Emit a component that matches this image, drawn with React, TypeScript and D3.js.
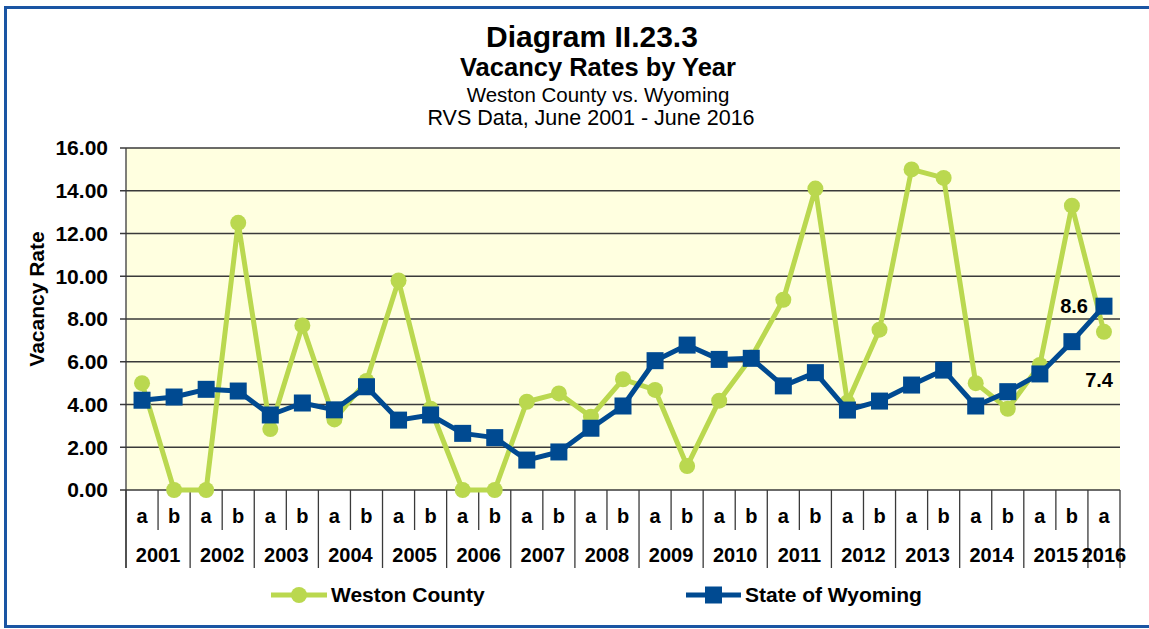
import React, { useMemo } from 'react';
import * as d3 from 'd3';

// Chart data
const years = ['2001', '2002', '2003', '2004', '2005', '2006', '2007', '2008',
  '2009', '2010', '2011', '2012', '2013', '2014', '2015', '2016'];
const halfLabels = ['a', 'b'];
const westonCounty = [5.0, 0, 0, 12.5, 2.85, 7.7, 3.3, 5.1, 9.8, 3.8, 0, 0, 4.13, 4.52,
  3.43, 5.18, 4.68, 1.12, 4.18, 6.2, 8.9, 14.1, 4.1, 7.5, 15.0, 14.6, 5.0, 3.8, 5.85, 13.3, 7.4];
const stateOfWyoming = [4.2, 4.35, 4.71, 4.63, 3.51, 4.07, 3.75, 4.83, 3.27, 3.51, 2.65, 2.45,
  1.4, 1.78, 2.89, 3.93, 6.05, 6.78, 6.11, 6.16, 4.87, 5.49, 3.74, 4.16, 4.91, 5.61, 3.93, 4.6,
  5.43, 6.94, 8.6];
const yTicks = [0, 2, 4, 6, 8, 10, 12, 14, 16];
const seriesNames = ['Weston County', 'State of Wyoming'];

const W = 1149;
const H = 629;
const plot = { left: 126, right: 1120, top: 148, bottom: 490 };
const GREEN = '#bad84f';
const BLUE = '#004a91';
const FONT = 'Liberation Sans, Arial, sans-serif';

// 2016 only has the "a" survey
const periods = years.flatMap((yr) =>
  (yr === '2016' ? halfLabels.slice(0, 1) : halfLabels).map((h) => ({ year: yr, half: h, key: yr + h })));

const App: React.FC = () => {
  const x = useMemo(() => d3.scaleBand<string>()
    .domain(periods.map((p) => p.key))
    .range([plot.left, plot.right])
    .paddingInner(0)
    .paddingOuter(0), []);
  const y = useMemo(() => d3.scaleLinear().domain([0, 16]).range([plot.bottom, plot.top]), []);
  const bw = x.bandwidth();
  const cx = (i: number) => (x(periods[i].key) as number) + bw / 2;

  const line = d3.line<number>().x((_, i) => cx(i)).y((d) => y(d));

  // boundaries between categories; year boundaries run down further
  const boundaries = d3.range(periods.length + 1).map((i) => {
    const xPos = plot.left + i * bw;
    const yearEdge = i === 0 || i === periods.length || periods[i].half === 'a';
    return { xPos, yearEdge };
  });

  const last = periods.length - 1;

  return (
    <div>
      <style>{'body{margin:0}'}</style>
      <svg width={W} height={H} style={{ display: 'block', fontFamily: FONT }}>
        <rect x={0} y={0} width={W} height={H} fill="#fff" />
        {/* outer frame */}
        <rect x={5.5} y={7.5} width={W + 10} height={619} fill="none" stroke="#1a55a3" strokeWidth={3} />

        {/* titles */}
        <g textAnchor="middle" fill="#000">
          <text x={592} y={47} fontSize={30} fontWeight="bold">Diagram II.23.3</text>
          <text x={598} y={76} fontSize={25.5} fontWeight="bold">Vacancy Rates by Year</text>
          <text x={598} y={101.5} fontSize={20.5}>Weston County vs. Wyoming</text>
          <text x={591} y={125} fontSize={21.5}>RVS Data, June 2001 - June 2016</text>
        </g>

        {/* plot background */}
        <rect x={plot.left} y={plot.top} width={plot.right - plot.left} height={plot.bottom - plot.top} fill="#ffffe0" />

        {/* gridlines + y ticks */}
        {yTicks.map((t) => (
          <g key={t}>
            <line x1={plot.left - 6} x2={plot.right} y1={y(t)} y2={y(t)} stroke="#3a3a3a" strokeWidth={1.3} />
            <text x={108} y={y(t)} dy="0.35em" textAnchor="end" fontSize={21} fontWeight="bold">{d3.format('.2f')(t)}</text>
          </g>
        ))}
        <line x1={plot.left} x2={plot.left} y1={plot.top} y2={568} stroke="#3a3a3a" strokeWidth={1.3} />

        {/* category dividers */}
        {boundaries.map((b, i) => (
          <line key={i} x1={b.xPos} x2={b.xPos} y1={plot.bottom} y2={b.yearEdge ? 568 : 530} stroke="#3a3a3a" strokeWidth={1.3} />
        ))}

        {/* category labels */}
        <g textAnchor="middle" fontSize={20} fontWeight="bold">
          {periods.map((p, i) => (
            <text key={p.key} x={cx(i)} y={523}>{p.half}</text>
          ))}
          {years.map((yr) => {
            const idx = periods.map((p, i) => (p.year === yr ? i : -1)).filter((i) => i >= 0);
            const mid = (cx(idx[0]) + cx(idx[idx.length - 1])) / 2;
            return <text key={yr} x={mid} y={562}>{yr}</text>;
          })}
        </g>

        {/* axis title */}
        <text transform="translate(44,299) rotate(-90)" textAnchor="middle" fontSize={21} fontWeight="bold">Vacancy Rate</text>

        {/* Weston County */}
        <path d={line(westonCounty) || undefined} fill="none" stroke={GREEN} strokeWidth={5} strokeLinejoin="round" />
        {westonCounty.map((v, i) => (
          <circle key={i} cx={cx(i)} cy={y(v)} r={8} fill={GREEN} />
        ))}

        {/* State of Wyoming */}
        <path d={line(stateOfWyoming) || undefined} fill="none" stroke={BLUE} strokeWidth={5} strokeLinejoin="round" />
        {stateOfWyoming.map((v, i) => (
          <rect key={i} x={cx(i) - 8.5} y={y(v) - 8.5} width={17} height={17} fill={BLUE} />
        ))}

        {/* end labels */}
        <text x={1088} y={y(stateOfWyoming[last]) + 7} textAnchor="end" fontSize={20} fontWeight="bold">{stateOfWyoming[last].toFixed(1)}</text>
        <text x={1113} y={387} textAnchor="end" fontSize={20} fontWeight="bold">{westonCounty[last].toFixed(1)}</text>

        {/* legend */}
        <g fontSize={21} fontWeight="bold">
          <line x1={271} x2={327} y1={595} y2={595} stroke={GREEN} strokeWidth={5} />
          <circle cx={299} cy={595} r={8} fill={GREEN} />
          <text x={331} y={602}>{seriesNames[0]}</text>
          <line x1={686} x2={741} y1={595} y2={595} stroke={BLUE} strokeWidth={5} />
          <rect x={705} y={586.5} width={17} height={17} fill={BLUE} />
          <text x={745} y={602}>{seriesNames[1]}</text>
        </g>
      </svg>
    </div>
  );
};

export default App;
